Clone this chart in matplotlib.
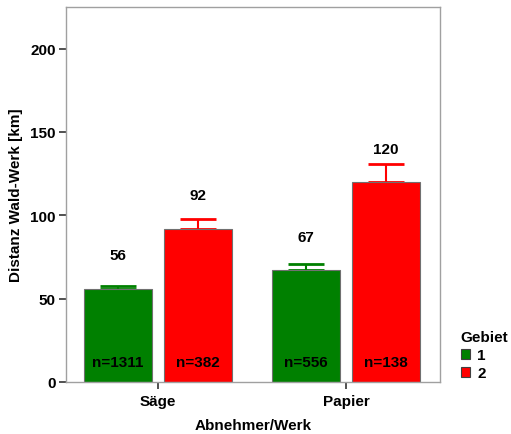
import numpy as np
import matplotlib.pyplot as plt

plt.rcParams['font.family'] = ['Liberation Sans', 'DejaVu Sans']
plt.rcParams['font.weight'] = 'bold'

# Daten
abnehmer = ["Säge", "Papier"]
gebiete = ["1", "2"]
mittel_1 = [56, 67]
mittel_2 = [92, 120]
fehler_1 = [1.7, 4]
fehler_2 = [6, 11]
n_1 = [1311, 556]
n_2 = [382, 138]
farben = ["#008000", "#ff0000"]

fig = plt.figure(figsize=(5.11, 4.35), dpi=100)
ax = fig.add_axes([66 / 511, 1 - 383 / 435, 374 / 511, 375 / 435])

x = np.arange(len(abnehmer))
breite = 0.362
versatz = 0.213
fs = 11

for werte, fehler, n, farbe, name, d in [
    (mittel_1, fehler_1, n_1, farben[0], gebiete[0], -versatz),
    (mittel_2, fehler_2, n_2, farben[1], gebiete[1], versatz),
]:
    ax.bar(x + d, werte, width=breite, color=farbe, edgecolor="#707070",
           linewidth=0.8, label=name, zorder=2)
    ax.errorbar(x + d, werte, yerr=[np.zeros(len(werte)), fehler], fmt="none",
                ecolor=farbe, elinewidth=1.5, capsize=13, capthick=2, zorder=1)
    for xi, w, ni in zip(x + d, werte, n):
        ax.text(xi, w + 20, f"{w}", ha="center", va="center", fontsize=fs, fontweight="bold")
        ax.text(xi, 12, f"n={ni}", ha="center", va="center", fontsize=fs, fontweight="bold")

ax.set_xlim(-0.489, 1.5)
ax.set_ylim(0, 225)
ax.set_yticks([0, 50, 100, 150, 200])
ax.set_xticks(x)
ax.set_xticklabels(abnehmer)
ax.tick_params(axis="both", labelsize=fs, length=5, width=1.2, color="#333333", pad=2.5)
ax.tick_params(axis="x", pad=4)
for s in ax.spines.values():
    s.set_color("#a0a0a0")
    s.set_linewidth(1)
for lab in ax.get_xticklabels() + ax.get_yticklabels():
    lab.set_fontweight("bold")

ax.set_xlabel("Abnehmer/Werk", fontsize=fs, fontweight="bold", labelpad=7)
ax.set_ylabel("Distanz Wald-Werk [km]", fontsize=fs, fontweight="bold", labelpad=5)

leg = ax.legend(title="Gebiet", loc="lower left", bbox_to_anchor=(1.055, 0.005),
                frameon=False, fontsize=fs, title_fontsize=fs, handlelength=0.6,
                handleheight=0.6, handletextpad=0.5, labelspacing=0.25, borderaxespad=0,
                borderpad=0)
leg.get_title().set_fontweight("bold")
leg._legend_box.align = "left"
for p in leg.get_patches():
    p.set_edgecolor("#404040")

fig.savefig("out.png", dpi=100)
